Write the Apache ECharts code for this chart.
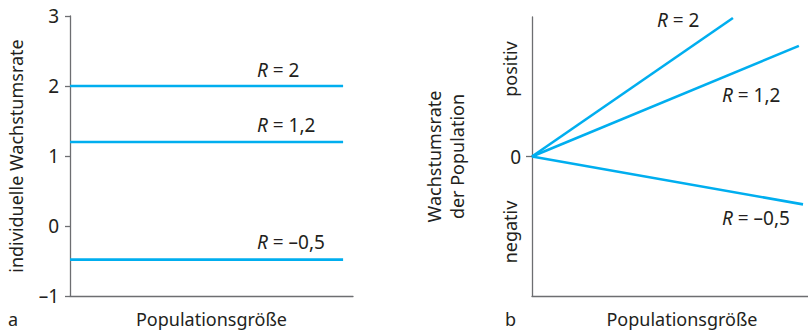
<!DOCTYPE html>
<html><head><meta charset="utf-8">
<script src="https://cdn.jsdelivr.net/npm/echarts@6/dist/echarts.min.js"></script>
<style>html,body{margin:0;padding:0;background:#fff}#c{width:808px;height:333px}</style>
</head><body><div id="c"></div>
<script>
// Panel a: individual growth rate (constant per R)
const leftR = ['2', '1,2', '–0,5'];
const leftRates = [2, 1.2, -0.48];
const leftXEnd = 0.965;
const leftTicks = [-1, 0, 1, 2, 3];
// Panel b: population growth rate (line end points, origin at 0)
const rightR = ['2', '1,2', '–0,5'];
const rightEndX = [0.728, 0.967, 0.982];
const rightEndY = [0.993, 0.793, -0.343];

const FONT = 'Noto Sans';
const FS = 18;
const TXT = '#231f20';
const AX = '#6d6e71';
const LINE = '#00aeef';

const chart = echarts.init(document.getElementById('c'), null, {renderer: 'svg'});

const series = [];
leftRates.forEach((v, i) => {
  series.push({type: 'line', xAxisIndex: 0, yAxisIndex: 0, symbol: 'none', silent: true,
    lineStyle: {color: LINE, width: 2.6}, data: [[0, v], [leftXEnd, v]]});
});
rightEndX.forEach((x, i) => {
  series.push({type: 'line', xAxisIndex: 1, yAxisIndex: 1, symbol: 'none', silent: true,
    lineStyle: {color: LINE, width: 2.6}, data: [[0, 0], [x, rightEndY[i]]]});
});

function rLabel(txt, left, cy) {
  return {type: 'text', left: left, top: cy - 12,
    style: {rich: {i: {fontStyle: 'italic', fontFamily: FONT, fontSize: 19, fill: TXT}, n: {fontFamily: FONT, fontSize: 19, fill: TXT}},
      text: '{i|R}{n| = ' + txt + '}', font: '19px ' + FONT, fill: TXT}};
}
const leftLabelPos = [[257, 72], [257, 127], [257, 244]];
const rightLabelPos = [[657, 22], [722, 97], [722, 220]];

const graphics = [];
leftR.forEach((t, i) => graphics.push(rLabel(t, leftLabelPos[i][0], leftLabelPos[i][1])));
rightR.forEach((t, i) => graphics.push(rLabel(t, rightLabelPos[i][0], rightLabelPos[i][1])));
graphics.push({type: 'text', left: 8, top: 310, style: {text: 'a', font: FS + 'px ' + FONT, fill: TXT}});
graphics.push({type: 'text', left: 505, top: 310, style: {text: 'b', font: FS + 'px ' + FONT, fill: TXT}});
graphics.push({type: 'text', x: 510, y: 69, rotation: Math.PI / 2,
  style: {text: 'positiv', font: FS + 'px ' + FONT, fill: TXT, align: 'center', verticalAlign: 'middle'}});
graphics.push({type: 'text', x: 510, y: 232, rotation: Math.PI / 2,
  style: {text: 'negativ', font: FS + 'px ' + FONT, fill: TXT, align: 'center', verticalAlign: 'middle'}});

const axisLineStyle = {show: true, onZero: false, lineStyle: {color: AX, width: 1.3}};
const option = {
  animation: false,
  textStyle: {fontFamily: FONT, color: TXT},
  grid: [
    {left: 70, top: 16, width: 283, height: 280},
    {left: 532, top: 17, width: 276, height: 279}
  ],
  xAxis: [
    {gridIndex: 0, type: 'value', min: 0, max: 1,
      axisLine: axisLineStyle, axisTick: {show: false},
      axisLabel: {show: false}, splitLine: {show: false},
      name: 'Populationsgröße', nameLocation: 'middle', nameGap: 14,
      nameTextStyle: {fontSize: FS, color: TXT, fontFamily: FONT}},
    {gridIndex: 1, type: 'value', min: 0, max: 1,
      axisLine: axisLineStyle, axisTick: {show: false},
      axisLabel: {show: false}, splitLine: {show: false},
      name: 'Populationsgröße', nameLocation: 'middle', nameGap: 14,
      nameTextStyle: {fontSize: FS, color: TXT, fontFamily: FONT, padding: [0, 0, 0, 24]}}
  ],
  yAxis: [
    {gridIndex: 0, type: 'value', min: leftTicks[0], max: leftTicks[leftTicks.length - 1], interval: 1,
      axisLine: axisLineStyle,
      axisTick: {show: true, length: 5, lineStyle: {color: AX, width: 1.3}},
      axisLabel: {fontSize: 19, color: TXT, margin: 11, fontFamily: FONT,
        formatter: v => (v < 0 ? '–' + Math.abs(v) : String(v))},
      splitLine: {show: false},
      name: 'individuelle Wachstumsrate', nameLocation: 'middle', nameGap: 45, nameRotate: 90,
      nameTextStyle: {fontSize: FS, color: TXT, fontFamily: FONT}},
    {gridIndex: 1, type: 'value', min: -1, max: 1, interval: 1,
      axisLine: axisLineStyle,
      axisTick: {show: true, length: 6, customValues: [0], lineStyle: {color: AX, width: 1.3}},
      axisLabel: {fontSize: 19, color: TXT, margin: 11, fontFamily: FONT, customValues: [0]},
      splitLine: {show: false},
      name: 'Wachstumsrate\nder Population', nameLocation: 'middle', nameGap: 64, nameRotate: 90,
      nameTextStyle: {fontSize: FS, color: TXT, fontFamily: FONT, lineHeight: 23}}
  ],
  series: series,
  graphic: graphics
};
chart.setOption(option);
</script></body></html>
